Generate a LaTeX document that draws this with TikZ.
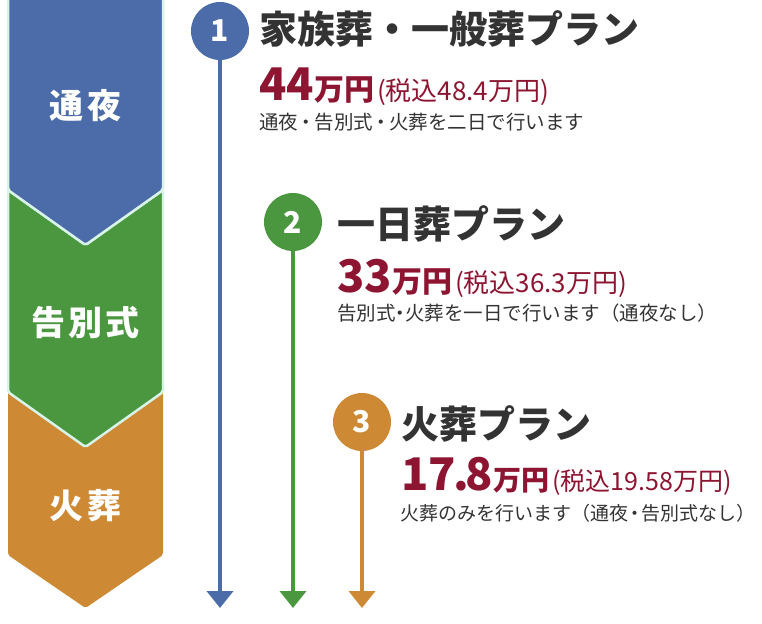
\documentclass[tikz,border=0pt]{standalone}
\usepackage{fontspec}
\usetikzlibrary{arrows.meta}
\newfontfamily\jp{Noto Sans CJK JP}
\definecolor{cblue}{HTML}{4B6CA8}
\definecolor{cgreen}{HTML}{4A973F}
\definecolor{corange}{HTML}{CD8934}
\definecolor{cred}{HTML}{8E1531}
\definecolor{ctitle}{HTML}{333333}
\definecolor{cmint}{HTML}{D8F3E8}
\newcommand{\kdot}[1]{\kern-#1em・\kern-#1em}
\begin{document}
\begin{tikzpicture}[x=1pt,y=-1pt,
  numc/.style={circle, minimum size=58pt, inner sep=0pt, text=white, font=\jp\bfseries\fontsize{30}{30}\selectfont},
  ttl/.style={anchor=base west, inner sep=0pt, text=ctitle, font=\jp\bfseries\fontsize{38}{40}\selectfont},
  desc/.style={anchor=base west, inner sep=0pt, text=ctitle, font=\jp\fontsize{19.5}{22}\selectfont},
  price/.style={anchor=base west, inner sep=0pt, text=cred, font=\jp},
  stage/.style={anchor=base, inner sep=0pt, text=white, font=\jp\bfseries\fontsize{34}{36}\selectfont},
  flow/.style={line width=4pt, -{Triangle[length=17pt,width=26pt]}},
  chev/.style={rounded corners=2pt},
  chevline/.style={draw=cmint, line width=2.5pt}
]
\useasboundingbox (0,0) rectangle (762,623);

% chevron column
\fill[chev, corange] (8,392) -- (85.5,447) -- (163,392) -- (163,555) -- (85.5,608) -- (8,555) -- cycle;
\filldraw[chev, fill=cgreen, chevline] (8,190) -- (85.5,245) -- (163,190) -- (163,392) -- (85.5,447) -- (8,392) -- cycle;
\filldraw[chev, fill=cblue, chevline] (8,-5) -- (163,-5) -- (163,190) -- (85.5,245) -- (8,190) -- cycle;

\node[stage] (s1) at (85.5,118.5) {\addfontfeature{LetterSpace=10}通夜};
\node[stage] (s2) at (85.5,335) {\addfontfeature{LetterSpace=10}告別式};
\node[stage] (s3) at (85.5,518) {\addfontfeature{LetterSpace=10}火葬};

% plan markers
\node[numc, fill=cblue] (n1) at (220,31) {1};
\node[numc, fill=cgreen] (n2) at (293,222) {2};
\node[numc, fill=corange] (n3) at (362,422) {3};

\coordinate (e1) at (220,608);
\coordinate (e2) at (293,608);
\coordinate (e3) at (362,608);
\draw[flow, cblue] (n1.south) -- (e1);
\draw[flow, cgreen] (n2.south) -- (e2);
\draw[flow, corange] (n3.south) -- (e3);

% plan 1
\node[ttl] (t1) at (259,44) {家族葬・一般葬プラン};
\node[price] (p1) at (259,100) {{\bfseries\fontsize{45}{45}\selectfont 44}{\bfseries\fontsize{30}{30}\selectfont 万円}\hspace{3pt}{\fontsize{26}{26}\selectfont (税込48.4万円)}};
\node[desc] (d1) at (259,129.5) {通夜\kdot{0.08}告別式\kdot{0.08}火葬を二日で行います};

% plan 2
\node[ttl] (t2) at (337,238) {一日葬プラン};
\node[price] (p2) at (337,292) {{\bfseries\fontsize{45}{45}\selectfont 33}{\bfseries\fontsize{30}{30}\selectfont 万円}\hspace{3pt}{\fontsize{26}{26}\selectfont (税込36.3万円)}};
\node[desc] (d2) at (337,320.5) {告別式\kdot{0.25}火葬を一日で行います（通夜なし）};

% plan 3
\node[ttl] (t3) at (401,438) {火葬プラン};
\node[price] (p3) at (401,490) {{\bfseries\fontsize{45}{45}\selectfont 17\kern-3pt.\kern-3pt8}{\bfseries\fontsize{28}{28}\selectfont 万円}\hspace{3pt}{\fontsize{25}{25}\selectfont (税込19.58万円)}};
\node[desc, font=\jp\fontsize{19}{22}\selectfont] (d3) at (400,520.5) {火葬のみを行います（通夜\kdot{0.15}告別式なし）};
\end{tikzpicture}
\end{document}
